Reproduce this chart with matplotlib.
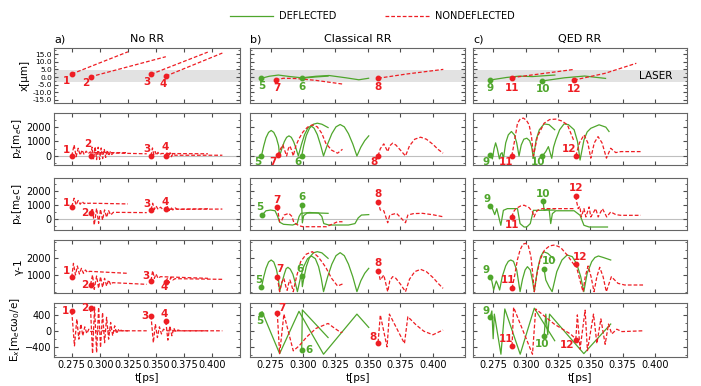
import numpy as np
import matplotlib.pyplot as plt
from matplotlib.ticker import AutoMinorLocator, FormatStrFormatter
from matplotlib.lines import Line2D

# ---- data: (t [ps], value) per track and per row ----
# row 1 : x [um]
X1 = [(0.275, 2.0), (0.300, 9.3), (0.325, 16.5)]
X2 = [(0.2917, 0.0), (0.297, 1.2), (0.3587, 13.3)]
X3 = [(0.3455, 1.8), (0.396, 16.3)]
X4 = [(0.3587, 0.6), (0.409, 15.7)]
X5 = [(0.268, -0.8), (0.274, 0.5), (0.281, 1.3), (0.29, 0.3), (0.299, -0.5), (0.31, 0.5),
      (0.32, 1.0), (0.333, -0.5), (0.343, -1.8), (0.3505, -0.8)]
X6 = [(0.299, -0.8), (0.309, 0.0), (0.3193, 0.6)]
X7 = [(0.2789, -1.8), (0.285, -0.8), (0.295, -1.0), (0.31, -2.2), (0.3304, -4.6)]
X8 = [(0.3578, -0.8), (0.38, 2.0), (0.408, 5.0)]
X9 = [(0.2722, -2.0), (0.285, -0.3), (0.295, 0.6), (0.305, 0.3), (0.3225, 1.3)]
X10 = [(0.3125, -2.6), (0.33, -0.5), (0.3455, 0.65), (0.3617, -0.9)]
X11 = [(0.2893, -0.4), (0.3375, 5.0)]
X12 = [(0.3373, -2.0), (0.3612, 2.4), (0.3855, 9.0)]

# row 2 : pz [me c]
PZ1 = [(0.275, 0), (0.2771, 760), (0.2789, -50), (0.2807, 530), (0.2825, 50), (0.2842, 410),
       (0.286, 100), (0.2878, 330), (0.2896, 150), (0.2914, 280), (0.2932, 230), (0.325, 230)]
PZ2 = [(0.2917, 0), (0.2931, 600), (0.2944, -230), (0.2958, 640), (0.2971, -250), (0.2985, 600),
       (0.2998, -230), (0.3012, 550), (0.3025, -180), (0.3039, 480), (0.3052, -100), (0.3066, 400),
       (0.3079, 0), (0.3093, 300), (0.3106, 100), (0.312, 200), (0.3417, 150)]
PZ3 = [(0.3455, 0), (0.3468, 550), (0.348, 100), (0.3492, 300), (0.3505, 50), (0.3517, 250),
       (0.353, 100), (0.355, 170), (0.3962, 150)]
PZ4 = [(0.3587, 0), (0.36, 250), (0.3612, -100), (0.3625, 220), (0.3637, -50), (0.365, 150),
       (0.367, 50), (0.409, 50)]
PZ5 = [(0.268, 0), (0.2698, 700), (0.2715, 1250), (0.2735, 1620), (0.2755, 1750), (0.2775, 1620),
       (0.2795, 1250), (0.2812, 700), (0.282, 0), (0.2838, 530), (0.2856, 980), (0.2874, 1280),
       (0.2892, 1380), (0.291, 1280), (0.2928, 980), (0.2946, 530), (0.2964, 0), (0.2988, 790),
       (0.3012, 1470), (0.3037, 1910), (0.3061, 2070), (0.3085, 1910), (0.311, 1470), (0.3134, 790),
       (0.3158, 0), (0.319, 830), (0.3222, 1530), (0.3254, 2000), (0.3286, 2160), (0.3318, 2000),
       (0.335, 1530), (0.3383, 830), (0.3415, 0), (0.3445, 600), (0.3475, 1050), (0.3506, 1380)]
PZ6 = [(0.299, 0), (0.3005, 700), (0.3025, 1400), (0.305, 1900), (0.308, 2180), (0.311, 2250),
       (0.3145, 2180), (0.3193, 1950)]
PZ7 = [(0.2806, 50), (0.2825, 450), (0.2845, 760), (0.2862, 300), (0.2874, 0), (0.2887, 500),
       (0.2899, 690), (0.2912, 400), (0.2925, 0), (0.2945, 700), (0.297, 1200), (0.3, 1650),
       (0.3035, 1980), (0.3072, 2140), (0.311, 2000), (0.3145, 1550), (0.3175, 880), (0.322, 400),
       (0.3266, 190), (0.3304, 460)]
PZ8 = [(0.3578, 0), (0.3595, 500), (0.3622, 830), (0.3652, 300), (0.3668, 700), (0.369, 880),
       (0.3715, 750), (0.375, 400), (0.3789, 0), (0.382, 700), (0.386, 1150), (0.3905, 1290),
       (0.395, 1150), (0.4, 800), (0.404, 450), (0.4078, 190)]
PZ9 = [(0.2722, 100), (0.2742, -200), (0.2755, 500), (0.2767, 900), (0.278, 500), (0.2796, -200),
       (0.2807, 150), (0.2817, 230), (0.2827, -200), (0.2845, 900), (0.2865, 1450), (0.2889, 1680),
       (0.2912, 1450), (0.293, 900), (0.2948, 0), (0.2965, 750), (0.2985, 1150), (0.3008, 1220),
       (0.303, 1050), (0.3045, 650), (0.3059, -150), (0.308, 1100), (0.3105, 1800), (0.3142, 2200),
       (0.318, 2150), (0.3224, 1800)]
PZ10 = [(0.3129, 0), (0.3155, 300), (0.3175, 640), (0.3201, -160), (0.3215, 600), (0.3232, 1100),
        (0.3262, 1800), (0.3296, 2200), (0.333, 2150), (0.3374, 1800), (0.34, 1000), (0.342, -280),
        (0.345, 1100), (0.3475, 1650), (0.3503, 1900), (0.3567, 2140), (0.3619, 1980), (0.3644, 1680)]
PZ11 = [(0.2892, 0), (0.291, 870), (0.2936, 2250), (0.2958, 2550), (0.2982, 2600), (0.3005, 2450),
        (0.3026, 2140), (0.3045, 1300), (0.3059, 0), (0.309, 1330), (0.3142, 2250), (0.3185, 2500),
        (0.3232, 2530), (0.328, 2400), (0.3322, 2140), (0.3374, 1000)]
PZ12 = [(0.3387, 0), (0.3415, 900), (0.3451, 1450), (0.348, 900), (0.3503, -150), (0.353, 900),
        (0.3559, 1330), (0.359, 900), (0.3624, -150), (0.3657, 530), (0.3696, 230), (0.3735, 300),
        (0.3889, 300)]

# row 3 : px [me c]
PX1 = [(0.275, 890), (0.2771, 1480), (0.2789, 1010), (0.2807, 1320), (0.2825, 1060), (0.2842, 1250),
       (0.286, 1100), (0.2878, 1175), (0.2896, 1120), (0.2914, 1130), (0.325, 1080)]
PX2 = [(0.2917, 470), (0.2935, 775), (0.295, -400), (0.2971, 775), (0.2989, -280), (0.3006, 700),
       (0.3024, -50), (0.3042, 660), (0.306, 140), (0.3078, 610), (0.3096, 300), (0.312, 490),
       (0.3417, 470)]
PX3 = [(0.3455, 660), (0.347, 1130), (0.3485, 700), (0.35, 940), (0.3518, 700), (0.354, 850),
       (0.356, 700), (0.3962, 740)]
PX4 = [(0.3587, 730), (0.3602, 890), (0.3616, 610), (0.3631, 850), (0.3649, 660), (0.367, 800),
       (0.3691, 700), (0.409, 720)]
PX5 = [(0.2686, 300), (0.2715, 600), (0.275, 650), (0.2785, 600), (0.2805, 200), (0.282, -200),
       (0.285, -350), (0.292, -400), (0.2955, -300), (0.297, 200), (0.2985, 420), (0.305, 480),
       (0.312, 440), (0.3145, 200), (0.316, -300), (0.32, -400), (0.335, -400), (0.34, -300),
       (0.3425, 100), (0.345, 300), (0.3506, 330)]
PX6 = [(0.299, 1000), (0.2995, -250), (0.3005, 250), (0.303, 430), (0.31, 450), (0.3193, 420)]
PX7 = [(0.2802, 845), (0.282, -170), (0.2835, -100), (0.2855, 300), (0.2891, 420), (0.2915, 200),
       (0.293, -240), (0.297, -450), (0.3, -520), (0.318, -520), (0.3266, -170), (0.3304, -170)]
PX8 = [(0.3578, 1240), (0.3595, 650), (0.3622, 600), (0.3652, -240), (0.3668, 300), (0.372, 420),
       (0.3789, -240), (0.3807, 300), (0.385, 400), (0.392, 420), (0.4, 320), (0.4078, 180)]
PX9 = [(0.2722, 920), (0.2742, 750), (0.276, 330), (0.2776, 750), (0.2807, -420), (0.2827, 630),
       (0.2858, 750), (0.2936, 750), (0.2956, -300), (0.2987, -540), (0.3008, -540), (0.3035, -300),
       (0.3059, 630), (0.309, 630), (0.3224, 650)]
PX10 = [(0.3134, 1290), (0.3142, 630), (0.318, 750), (0.3193, -300), (0.3206, 400), (0.3232, 600),
        (0.3374, 600), (0.342, 280), (0.345, -420), (0.349, -540), (0.3632, -540)]
PX11 = [(0.2892, 165), (0.2905, 520), (0.2923, 750), (0.2961, 940), (0.2987, 990), (0.3026, 820),
        (0.3052, 520), (0.3064, 165), (0.3075, 400), (0.309, 630), (0.3129, 750), (0.3374, 750)]
PX12 = [(0.3387, 1620), (0.3394, 1220), (0.3405, 750), (0.3418, 900), (0.343, 165), (0.345, 750),
        (0.3465, 165), (0.349, 870), (0.3503, 165), (0.3541, 750), (0.356, 165), (0.3593, 750),
        (0.3626, 165), (0.3657, 520), (0.3696, 330), (0.3735, 280), (0.3889, 280)]

# row 4 : gamma - 1
G1 = [(0.275, 860), (0.2765, 1700), (0.2783, 1000), (0.28, 1540), (0.2818, 1060), (0.2836, 1400),
      (0.2854, 1100), (0.2872, 1300), (0.289, 1150), (0.2908, 1220), (0.325, 1100)]
G2 = [(0.2917, 420), (0.2935, 1000), (0.295, 140), (0.2971, 940), (0.2989, 200), (0.3006, 900),
      (0.3024, 260), (0.3042, 800), (0.306, 340), (0.3078, 700), (0.3096, 420), (0.3114, 540),
      (0.3417, 440)]
G3 = [(0.3455, 660), (0.347, 1260), (0.3485, 800), (0.35, 1060), (0.3518, 800), (0.354, 900),
      (0.3962, 800)]
G4 = [(0.3587, 600), (0.3602, 800), (0.3616, 540), (0.3631, 860), (0.3649, 700), (0.367, 780),
      (0.409, 740)]
G5 = [(0.268, 263), (0.2698, 900), (0.2715, 1400), (0.2735, 1780), (0.2755, 1900), (0.2775, 1780),
      (0.2795, 1350), (0.2812, 700), (0.282, 0), (0.2838, 550), (0.2856, 1050), (0.287, 1380),
      (0.2884, 1460), (0.2902, 1350), (0.2922, 1050), (0.294, 550), (0.2957, 0), (0.298, 820),
      (0.3005, 1500), (0.3035, 1980), (0.3065, 2140), (0.3095, 1980), (0.312, 1500), (0.314, 820),
      (0.3158, 0), (0.319, 900), (0.3222, 1650), (0.3254, 2160), (0.3286, 2340), (0.3318, 2160),
      (0.335, 1650), (0.3383, 900), (0.3415, 0), (0.3445, 650), (0.3475, 1100), (0.3506, 1400)]
G6 = [(0.299, 960), (0.2995, 300), (0.3005, 750), (0.3025, 1500), (0.305, 2050), (0.308, 2330),
      (0.311, 2400), (0.3145, 2330), (0.3193, 2000)]
G7 = [(0.2802, 860), (0.2812, 400), (0.282, 0), (0.2836, 550), (0.2853, 800), (0.2868, 300),
      (0.2878, 80), (0.289, 500), (0.2899, 700), (0.2912, 400), (0.2925, 0), (0.295, 900),
      (0.2982, 1800), (0.3025, 2250), (0.3072, 2400), (0.3115, 2100), (0.3145, 1800), (0.3175, 1460),
      (0.322, 800), (0.3266, 340), (0.3304, 460)]
G8 = [(0.3578, 1260), (0.3595, 700), (0.3622, 1000), (0.3637, 500), (0.3652, 0), (0.3668, 650),
      (0.369, 900), (0.3715, 800), (0.375, 450), (0.3789, 0), (0.382, 750), (0.386, 1200),
      (0.3905, 1340), (0.395, 1200), (0.4, 850), (0.404, 500), (0.4078, 200)]
G9 = [(0.2724, 900), (0.2736, 700), (0.2752, 100), (0.2762, 400), (0.2772, 640), (0.2785, 400),
      (0.2798, 100), (0.2818, 900), (0.2845, 1550), (0.2865, 1820), (0.2884, 1900), (0.2905, 1820),
      (0.293, 1300), (0.2956, 0), (0.2975, 750), (0.2995, 1300), (0.3013, 1500), (0.3035, 1300),
      (0.305, 750), (0.3066, 0), (0.309, 1300), (0.3115, 2100), (0.3137, 2400), (0.317, 2300),
      (0.3205, 2050), (0.3224, 1900)]
G10 = [(0.3142, 1340), (0.3155, 700), (0.318, 300), (0.3204, 0), (0.324, 1200), (0.328, 1900),
       (0.332, 2200), (0.336, 2100), (0.3395, 1650), (0.3425, 900), (0.3449, 0), (0.3475, 1100),
       (0.351, 1800), (0.3535, 2050), (0.3562, 2140), (0.36, 2050), (0.3657, 1900)]
G11 = [(0.2894, 200), (0.2915, 1000), (0.2935, 1900), (0.2956, 2500), (0.2978, 2850), (0.3, 2900),
       (0.302, 2750), (0.304, 2100), (0.3055, 1000), (0.3066, 0), (0.3085, 1000), (0.311, 1900),
       (0.3145, 2500), (0.3185, 2750), (0.3224, 2800), (0.327, 2650), (0.332, 2200), (0.3375, 1600)]
G12 = [(0.3387, 1660), (0.3415, 800), (0.3443, 0), (0.346, 900), (0.3482, 1540), (0.3505, 900),
       (0.3528, 0), (0.355, 900), (0.3572, 1460), (0.3598, 900), (0.3623, 0), (0.3662, 900),
       (0.3713, 500), (0.3765, 400), (0.3907, 400)]

# row 5 : Ex [me c w0 / e]
E1 = [(0.275, 490), (0.2774, -380), (0.2795, 295), (0.2813, -210), (0.2831, 170), (0.2848, -125),
      (0.2866, 100), (0.2884, -70), (0.2902, 40), (0.292, -20), (0.3, 0), (0.325, 0)]
E2 = [(0.2917, 565), (0.2935, -575), (0.2953, 600), (0.2971, -550), (0.2989, 590), (0.3006, -420),
      (0.3024, 460), (0.3042, -300), (0.306, 340), (0.3078, -210), (0.3096, 210), (0.3114, -125),
      (0.3132, 125), (0.315, -70), (0.3168, 40), (0.32, 0), (0.3417, 0)]
E3 = [(0.3455, 380), (0.3476, -300), (0.3494, 170), (0.3512, -170), (0.353, 100), (0.3548, -80),
      (0.3566, 40), (0.36, 0), (0.3962, 0)]
E4 = [(0.3587, 240), (0.3605, -235), (0.3623, 125), (0.3641, -125), (0.3658, 70), (0.3676, -40),
      (0.3694, 20), (0.372, 0), (0.409, 0)]
E5 = [(0.268, 420), (0.2685, 480), (0.282, -575), (0.2969, 490), (0.3158, -590), (0.3415, 420),
      (0.3506, 85)]
E6 = [(0.299, -490), (0.2995, 525), (0.3193, -170)]
E7 = [(0.2802, 440), (0.282, -575), (0.2853, 420), (0.2925, -505), (0.297, -380), (0.303, -150),
      (0.31, 60), (0.3193, 185), (0.3245, 60), (0.3291, -43), (0.3304, -30)]
E8 = [(0.3578, -295), (0.3595, 400), (0.3647, -405), (0.3665, 420), (0.3781, -320), (0.3807, 355),
      (0.387, 150), (0.393, -10), (0.4, -100), (0.4078, 20)]
E9 = [(0.2724, 340), (0.2738, 500), (0.2748, -200), (0.2757, 420), (0.2808, -590), (0.2838, 550),
      (0.2957, -590), (0.3066, 570), (0.3224, -250)]
E10 = [(0.3142, -135), (0.3155, 420), (0.317, -100), (0.3184, 420), (0.3449, -575), (0.3657, 170)]
E11 = [(0.2894, -380), (0.2906, 590), (0.3052, -590), (0.3077, 550), (0.322, 170), (0.3348, -85),
       (0.3375, -170)]
E12 = [(0.3387, -220), (0.3399, 400), (0.342, -460), (0.3459, 520), (0.3477, -500), (0.3524, 420),
       (0.355, -320), (0.3581, 300), (0.3614, -340), (0.364, 170), (0.3665, -80), (0.3704, 40),
       (0.3743, -20), (0.3907, 0)]

titles = ["No RR", "Classical RR", "QED RR"]
letters = ["a)", "b)", "c)"]
ylabels = ["x[\u03bcm]", "p$_z$[m$_e$c]", "p$_x$[m$_e$c]", "\u03b3-1", "E$_x$[m$_e$c\u03c9$_0$/e]"]
xticks = [0.275, 0.300, 0.325, 0.350, 0.375, 0.400]

rows = [
    {1: X1, 2: X2, 3: X3, 4: X4, 5: X5, 6: X6, 7: X7, 8: X8, 9: X9, 10: X10, 11: X11, 12: X12},
    {1: PZ1, 2: PZ2, 3: PZ3, 4: PZ4, 5: PZ5, 6: PZ6, 7: PZ7, 8: PZ8, 9: PZ9, 10: PZ10, 11: PZ11, 12: PZ12},
    {1: PX1, 2: PX2, 3: PX3, 4: PX4, 5: PX5, 6: PX6, 7: PX7, 8: PX8, 9: PX9, 10: PX10, 11: PX11, 12: PX12},
    {1: G1, 2: G2, 3: G3, 4: G4, 5: G5, 6: G6, 7: G7, 8: G8, 9: G9, 10: G10, 11: G11, 12: G12},
    {1: E1, 2: E2, 3: E3, 4: E4, 5: E5, 6: E6, 7: E7, 8: E8, 9: E9, 10: E10, 11: E11, 12: E12},
]

# ---- styling / layout ----
GREEN = "#4fa62c"
RED = "#ee1d23"
col_tracks = [[1, 2, 3, 4], [5, 6, 7, 8], [9, 10, 11, 12]]
green_ids = {5, 6, 9, 10}

W, H = 701, 386
col_px = [(54, 240), (250, 465), (473, 687)]
row_px = [(48, 103), (113, 165), (178, 230), (240, 293), (303, 357)]
ylims = [(-17, 19), (-620, 2950), (-750, 2900), (-80, 3100), (-660, 700)]
yticks = [[-15, -10, -5, 0, 5, 10, 15], [0, 1000, 2000], [0, 1000, 2000], [1000, 2000], [-400, 0, 400]]

# label offsets in pixels (dx right, dy up) per row per track
offs = [
    {1: (-5, -7), 2: (-5, -6), 3: (-4, -8), 4: (-3, -8), 5: (0, -8), 7: (1, -8), 6: (0, -9), 8: (0, -9),
     9: (0, -8), 11: (0, -10), 10: (1, -8), 12: (0, -9)},
    {1: (-5, 6), 2: (-3, 12), 3: (-4, 7), 4: (-1, 9), 5: (-4, -6), 7: (-5, -7), 6: (-4, -6), 8: (-4, -6),
     9: (-4, -7), 11: (-6, -6), 10: (-4, -6), 12: (-7, 7)},
    {1: (-5, 4), 2: (-6, 0), 3: (-4, 6), 4: (-1, 7), 5: (-2, 8), 7: (0, 7), 6: (0, 8), 8: (0, 8),
     9: (-3, 7), 11: (0, -8), 10: (0, 7), 12: (0, 8)},
    {1: (-5, 6), 2: (-6, 0), 3: (-5, 5), 4: (-2, -5), 5: (-3, 7), 7: (3, 8), 6: (-2, 7), 8: (0, 8),
     9: (-4, 7), 11: (-4, 8), 10: (5, 8), 12: (4, 7)},
    {1: (-6, 0), 2: (-6, 0), 3: (-6, 0), 4: (-2, 7), 5: (-2, -7), 7: (5, 5), 6: (7, 0), 8: (-5, 6),
     9: (-4, 6), 11: (-6, 7), 10: (-2, -8), 12: (-9, -5)},
]

plt.rcParams["font.family"] = "DejaVu Sans"
fig = plt.figure(figsize=(W / 100, H / 100), dpi=100)

for r in range(5):
    for c in range(3):
        x0, x1 = col_px[c]
        y0, y1 = row_px[r]
        ax = fig.add_axes([x0 / W, 1 - y1 / H, (x1 - x0) / W, (y1 - y0) / H])
        ax.set_xlim(0.2592, 0.4247)
        ax.set_ylim(*ylims[r])
        ax.set_xticks(xticks)
        ax.set_yticks(yticks[r])
        ax.yaxis.set_minor_locator(AutoMinorLocator(2))
        ax.tick_params(which="both", direction="in", top=True, right=True, labelsize=7,
                       color="0.3", pad=2)
        ax.tick_params(which="major", length=3)
        ax.tick_params(which="minor", length=1.5)
        for s in ax.spines.values():
            s.set_color("0.4")
            s.set_linewidth(0.8)
        if r == 0:
            ax.axhspan(-3.5, 4.5, color="#e2e2e2", zorder=0, lw=0)
            ax.yaxis.set_major_formatter(FormatStrFormatter("%.1f"))
            ax.tick_params(axis="y", labelsize=5.4, pad=1.5)
            ax.set_title(titles[c], fontsize=8, pad=4)
            ax.set_title(letters[c], loc="left", fontsize=8, pad=4)
        if r in (1, 2):
            ax.axhline(0, color="0.75", lw=0.8, zorder=0)
        if c == 0:
            ax.set_ylabel(ylabels[r], fontsize=7.5, labelpad=2)
        else:
            ax.set_yticklabels([])
        if r == 4:
            ax.set_xlabel("t[ps]", fontsize=7.5, labelpad=2)
        else:
            ax.set_xticklabels([])
        if r == 0 and c == 2:
            ax.text(0.4004, 0.6, "LASER", fontsize=7.5, ha="center", va="center")

        for k in col_tracks[c]:
            pts = np.array(rows[r][k])
            col = GREEN if k in green_ids else RED
            ls = "-" if k in green_ids else (0, (3, 1.6))
            ax.plot(pts[:, 0], pts[:, 1], color=col, lw=0.9, ls=ls, zorder=2)
            ax.plot(pts[0, 0], pts[0, 1], "o", color=col, ms=3.2, zorder=3)
            dx, dy = offs[r][k]
            ax.annotate(str(k), (pts[0, 0], pts[0, 1]), xytext=(dx, dy),
                        textcoords="offset pixels", ha="center", va="center",
                        color=col, fontsize=7.5, fontweight="bold", zorder=4)

handles = [Line2D([], [], color=GREEN, lw=0.9),
           Line2D([], [], color=RED, lw=0.9, ls=(0, (3, 1.6)))]
fig.legend(handles, ["DEFLECTED", "NONDEFLECTED"], loc="center", ncol=2, frameon=False,
           bbox_to_anchor=(372 / W, 1 - 16 / H), fontsize=7, handlelength=4.5,
           columnspacing=5.0, handletextpad=0.6)

fig.savefig("out.png", dpi=100)
